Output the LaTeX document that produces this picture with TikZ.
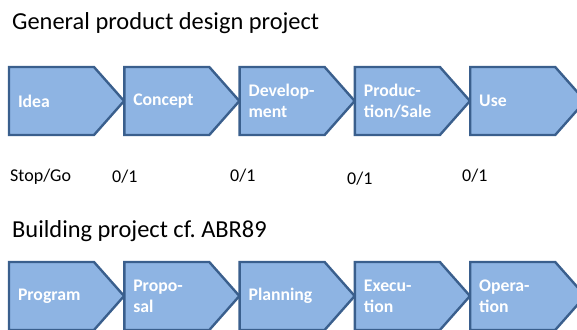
\documentclass[tikz,border=0pt]{standalone}
\usepackage{fontspec}
\setmainfont{Carlito}
\usepackage{tikz}
\usetikzlibrary{shapes.symbols}

\definecolor{phasefill}{HTML}{8EB4E3}
\definecolor{phaseline}{HTML}{3A5F8D}

\begin{document}
\begin{tikzpicture}[
  x=1pt, y=-1pt,
  phase/.style={signal, signal to=east, signal from=nowhere,
                signal pointer angle=97, draw=phaseline, line width=2.4pt,
                fill=phasefill, anchor=west, outer sep=0pt,
                minimum height=68pt, text width=67pt, inner xsep=9pt,
                inner ysep=0pt, align=left, text=white,
                font=\fontsize{17.7}{21}\selectfont\bfseries},
  head/.style={anchor=base west, inner sep=0pt,
               font=\fontsize{24.4}{28}\selectfont},
  gate/.style={anchor=base west, inner sep=0pt,
               font=\fontsize{18}{20}\selectfont}
]
\useasboundingbox (0,0) rectangle (577,329);
\clip (0,0) rectangle (577,329);

% product design chain
\node[head] (gen) at (12,30) {General product design project};

\node[phase] (idea) at (9,101)     {Idea};
\node[phase] (con)  at (124.3,101) {Concept};
\node[phase] (dev)  at (239.6,101) {Develop-\\ment};
\node[phase] (prod) at (354.9,101) {Produc-\\tion/Sale};
\node[phase] (use)  at (470.2,101) {Use};

% decision points between the phases
\node[gate] (sg) at (10,181)    {Stop/Go};
\node[gate] (g1) at (112,182.5) {0/1};
\node[gate] (g2) at (230,181)   {0/1};
\node[gate] (g3) at (347,184)   {0/1};
\node[gate] (g4) at (462,181)   {0/1};

% building chain, runs past the lower edge
\node[head] (bld) at (12,237) {Building project cf.\ ABR89};

\node[phase] (prog) at (9,296)     {Program};
\node[phase] (prop) at (124.3,296) {Propo-\\sal};
\node[phase] (plan) at (239.6,296) {Planning};
\node[phase] (exec) at (354.9,296) {Execu-\\tion};
\node[phase] (oper) at (470.2,296) {Opera-\\tion};

\end{tikzpicture}
\end{document}
